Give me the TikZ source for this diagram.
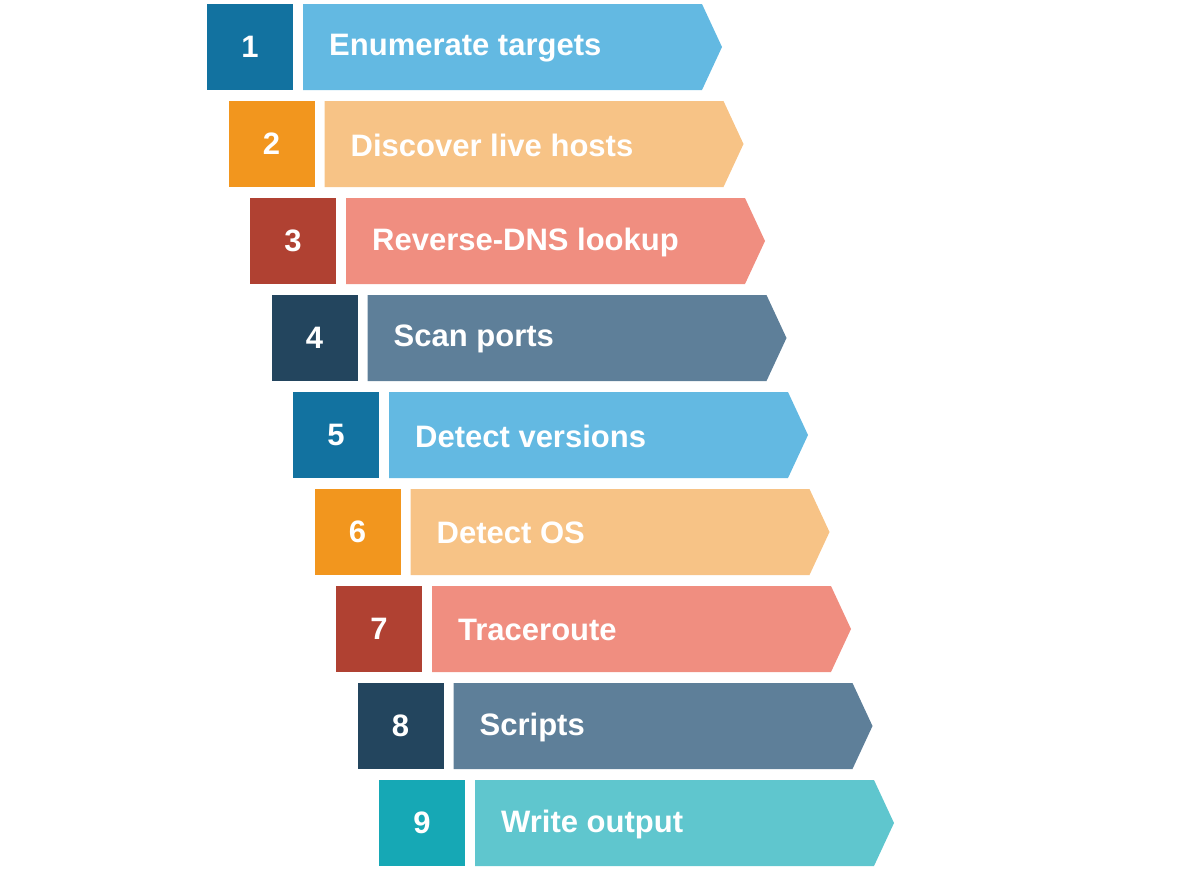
\documentclass[tikz,border=0pt]{standalone}
\usepackage{fontspec}
\setmainfont{Liberation Sans}
\definecolor{dA1}{HTML}{1272A0}\definecolor{lA1}{HTML}{63B9E2}
\definecolor{dA2}{HTML}{F2961E}\definecolor{lA2}{HTML}{F7C386}
\definecolor{dA3}{HTML}{B04132}\definecolor{lA3}{HTML}{F08E80}
\definecolor{dA4}{HTML}{23455E}\definecolor{lA4}{HTML}{5E7F99}
\definecolor{dA5}{HTML}{16A8B5}\definecolor{lA5}{HTML}{5FC6CE}
\tikzset{lbl/.style={text=white,font=\fontsize{31}{31}\selectfont\bfseries,inner sep=0pt}}
\begin{document}
\begin{tikzpicture}[x=1pt,y=-1pt]
\useasboundingbox (0,0) rectangle (1200,868);
\foreach \i/\c/\t in {0/1/Enumerate targets,1/2/Discover live hosts,2/3/Reverse-DNS lookup,3/4/Scan ports,4/1/Detect versions,5/2/Detect OS,6/3/Traceroute,7/4/Scripts,8/5/Write output}{
  \pgfmathsetmacro{\x}{207+21.5*\i}
  \pgfmathsetmacro{\y}{4+97*\i}
  \pgfmathtruncatemacro{\n}{\i+1}
  \fill[dA\c] (\x,\y) rectangle ++(86,86);
  \fill[lA\c] (\x+96,\y) -- ++(399,0) -- ++(20,43) -- ++(-20,43) -- ++(-399,0) -- cycle;
  \node[lbl] (n\n) at (\x+43,\y+43) {\n};
  \node[lbl,anchor=west] (t\n) at (\x+122,\y+44) {\t};
}
\end{tikzpicture}
\end{document}
